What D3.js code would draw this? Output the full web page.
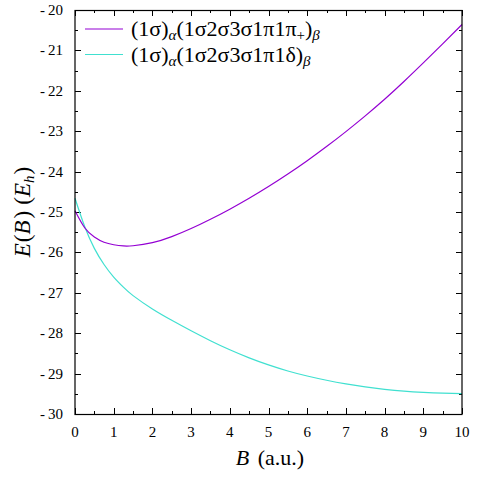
<head>
<meta charset="UTF-8">
<style>
    svg text, svg tspan { font-family: "Liberation Serif", "Times New Roman", serif !important; }
</style>
</head>
<script src="https://d3js.org/d3.v7.min.js"></script>
<svg id="chart" width="478" height="478"></svg>
<script>
    // 磁场 B (a.u.) 采样点
    const bValues = [0, 0.25, 0.5, 0.75, 1, 1.25, 1.5, 2, 2.5, 3, 3.5, 4, 4.5, 5, 5.5, 6, 6.5, 7, 7.5, 8, 8.5, 9, 9.5, 10];
    // (1σ)α(1σ2σ3σ1π1π+)β
    const energyPi = [-24.97, -25.39, -25.62, -25.75, -25.81, -25.84, -25.835, -25.76, -25.61, -25.41, -25.18, -24.93,
        -24.66, -24.37, -24.06, -23.73, -23.38, -23.01, -22.62, -22.21, -21.77, -21.31, -20.84, -20.36];
    // (1σ)α(1σ2σ3σ1π1δ)β
    const energyDelta = [-24.66, -25.36, -25.90, -26.30, -26.61, -26.86, -27.07, -27.40, -27.68, -27.94, -28.185, -28.41,
        -28.61, -28.785, -28.935, -29.06, -29.165, -29.255, -29.33, -29.39, -29.435, -29.465, -29.485, -29.495];
    const xTicks = [0, 1, 2, 3, 4, 5, 6, 7, 8, 9, 10];
    const yTicks = [-20, -21, -22, -23, -24, -25, -26, -27, -28, -29, -30];

    document.body.style.margin = "0";
    document.body.style.background = "#fff";

    const FONT = "'Liberation Serif'";
    const svg = d3.select("#chart").style("display", "block");
    const plotL = 75, plotR = 462, plotT = 10, plotB = 414;

    const x = d3.scaleLinear().domain([0, 10]).range([plotL, plotR]);
    const y = d3.scaleLinear().domain([-30, -20]).range([plotB, plotT]);

    // 刻度（四边朝内）
    const minorX = d3.range(0, 10.01, 0.5);
    const minorY = d3.range(-30, -19.99, 0.5);
    const tickG = svg.append("g").attr("stroke", "#000").attr("stroke-width", 1);
    minorX.forEach(v => {
        const len = Number.isInteger(v) ? 6 : 3;
        const px = Math.round(x(v)) + 0.5;
        tickG.append("line").attr("x1", px).attr("x2", px).attr("y1", plotB).attr("y2", plotB - len);
        tickG.append("line").attr("x1", px).attr("x2", px).attr("y1", plotT).attr("y2", plotT + len);
    });
    minorY.forEach(v => {
        const len = Number.isInteger(v) ? 6 : 3;
        const py = Math.round(y(v)) + 0.5;
        tickG.append("line").attr("x1", plotL).attr("x2", plotL + len).attr("y1", py).attr("y2", py);
        tickG.append("line").attr("x1", plotR).attr("x2", plotR - len).attr("y1", py).attr("y2", py);
    });

    // 刻度标签
    svg.append("g").selectAll("text").data(xTicks).join("text")
        .attr("font-family", FONT)
        .attr("x", d => x(d)).attr("y", 437)
        .attr("text-anchor", "middle").attr("font-size", 15)
        .text(d => d);
    svg.append("g").selectAll("text").data(yTicks).join("text")
        .attr("font-family", FONT)
        .attr("x", 63).attr("y", d => y(d) + 5)
        .attr("text-anchor", "end").attr("font-size", 15)
        .text(d => d.toString().replace("-", "-\u2009"));

    // 曲线
    const line = d3.line().x(d => x(d[0])).y(d => y(d[1])).curve(d3.curveNatural);
    svg.append("path").datum(bValues.map((b, i) => [b, energyDelta[i]]))
        .attr("fill", "none").attr("stroke", "#40e0d0").attr("stroke-width", 1.2).attr("d", line);
    svg.append("path").datum(bValues.map((b, i) => [b, energyPi[i]]))
        .attr("fill", "none").attr("stroke", "#9400d3").attr("stroke-width", 1.2).attr("d", line);

    // 边框
    svg.append("rect").attr("x", plotL).attr("y", plotT + 0.5).attr("width", plotR - plotL).attr("height", plotB - plotT)
        .attr("fill", "none").attr("stroke", "#000").attr("stroke-width", 1.2);

    // 图例
    const legend = [
        { color: "#9400d3", inner: "1σ2σ3σ1π1π", sub: "+" },
        { color: "#40e0d0", inner: "1σ2σ3σ1π1δ", sub: null }
    ];
    legend.forEach((item, i) => {
        const ly = 29 + i * 25.5;
        svg.append("line").attr("x1", 85).attr("x2", 123).attr("y1", ly).attr("y2", ly)
            .attr("stroke", item.color).attr("stroke-width", 1.2);
        const t = svg.append("text").attr("font-family", FONT)
            .attr("x", 131).attr("y", ly + 7).attr("font-size", 22);
        t.append("tspan").text("(1σ)");
        t.append("tspan").attr("dy", 4).attr("font-size", 15).attr("font-style", "italic").text("α");
        t.append("tspan").attr("dy", -4).text("(" + item.inner);
        if (item.sub) {
            t.append("tspan").attr("dy", 4).attr("font-size", 15).text(item.sub);
            t.append("tspan").attr("dy", -4).text(")");
        } else {
            t.append("tspan").text(")");
        }
        t.append("tspan").attr("dy", 4).attr("font-size", 15).attr("font-style", "italic").text("β");
    });

    // 坐标轴标题
    const xl = svg.append("text").attr("font-family", FONT)
        .attr("x", 270).attr("y", 465).attr("text-anchor", "middle").attr("font-size", 22);
    xl.append("tspan").attr("font-style", "italic").text("B");
    xl.append("tspan").attr("dx", 3).text(" (a.u.)");

    const yl = svg.append("text").attr("font-family", FONT)
        .attr("transform", "translate(30,212) rotate(-90)")
        .attr("text-anchor", "middle").attr("font-size", 23);
    yl.append("tspan").attr("font-style", "italic").text("E");
    yl.append("tspan").attr("dx", 1).text("(");
    yl.append("tspan").attr("font-style", "italic").text("B");
    yl.append("tspan").attr("dx", 2).text(")");
    yl.append("tspan").attr("dx", 6).text("(");
    yl.append("tspan").attr("font-style", "italic").text("E");
    yl.append("tspan").attr("dy", 4).attr("font-size", 15).attr("font-style", "italic").text("h");
    yl.append("tspan").attr("dy", -4).attr("dx", 1).text(")");
</script>
